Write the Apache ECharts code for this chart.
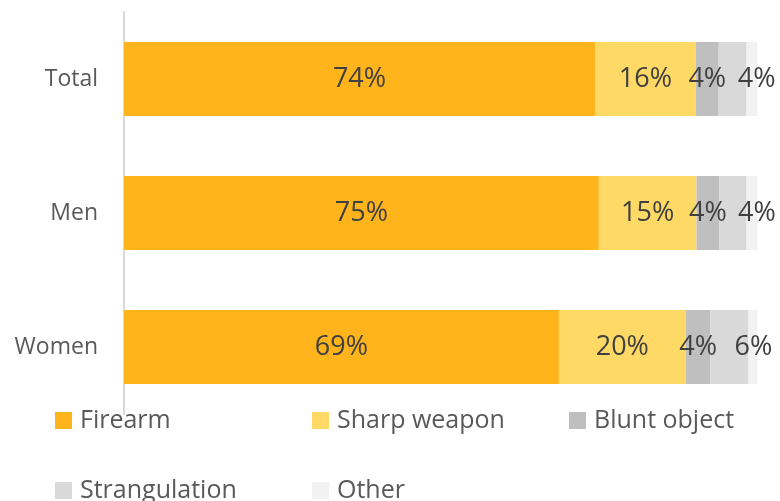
<!DOCTYPE html>
<html>
<head>
<meta charset="utf-8">
<script src="https://cdn.jsdelivr.net/npm/echarts@6/dist/echarts.min.js"></script>
<style>
html,body{margin:0;padding:0;background:#fff;}
#chart{width:780px;height:501px;}
</style>
</head>
<body>
<div id="chart"></div>
<script>
var categories = ['Total', 'Men', 'Women'];
var firearm = [74.3, 74.9, 68.6];
var sharpWeapon = [15.9, 15.4, 20.0];
var bluntObject = [3.6, 3.6, 3.9];
var strangulation = [4.4, 4.3, 6.0];
var other = [1.7, 1.7, 1.4];
var seriesNames = ['Firearm', 'Sharp weapon', 'Blunt object', 'Strangulation', 'Other'];
var seriesColors = ['#FEB41A', '#FFD966', '#BFBFBF', '#D9D9D9', '#F2F2F2'];
var seriesValues = [firearm, sharpWeapon, bluntObject, strangulation, other];

var FONT = 'Open Sans';
var labelOffsets = [[0,0],[0,0],[0,0],[24,0],[0,0]];
// legend grid: 3 columns, 2 rows
var legendLeft = [55, 312, 569, 55, 312];
var legendTop = [408, 408, 408, 478, 478];

var series = seriesNames.map(function (name, i) {
  return {
    name: name,
    type: 'bar',
    stack: 'total',
    barWidth: 74,
    itemStyle: { color: seriesColors[i] },
    label: {
      show: i < 4,
      position: 'inside',
      offset: labelOffsets[i],
      fontFamily: FONT,
      fontSize: 27,
      color: '#404040',
      formatter: function (p) { return Math.round(p.value) + '%'; }
    },
    emphasis: { disabled: true },
    data: seriesValues[i]
  };
});

var legends = seriesNames.map(function (name, i) {
  return {
    left: legendLeft[i], top: legendTop[i], orient: 'horizontal', padding: 0,
    itemWidth: 17, itemHeight: 17, icon: 'rect',
    selectedMode: false,
    data: [name],
    textStyle: { fontFamily: FONT, fontSize: 25, color: '#595959', padding: [0, 0, 0, 3] }
  };
});

var chart = echarts.init(document.getElementById('chart'), null, { renderer: 'canvas' });
chart.setOption({
  animation: false,
  grid: { left: 124, right: 22, top: 12, height: 402, containLabel: false },
  xAxis: { type: 'value', min: 0, max: 100, show: false },
  yAxis: {
    type: 'category',
    inverse: true,
    data: categories,
    axisLine: { show: true, lineStyle: { color: '#D9D9D9', width: 2 } },
    axisTick: { show: false },
    splitLine: { show: false },
    axisLabel: { fontFamily: FONT, fontSize: 23, color: '#595959', margin: 26 }
  },
  legend: legends,
  series: series
});
</script>
</body>
</html>
